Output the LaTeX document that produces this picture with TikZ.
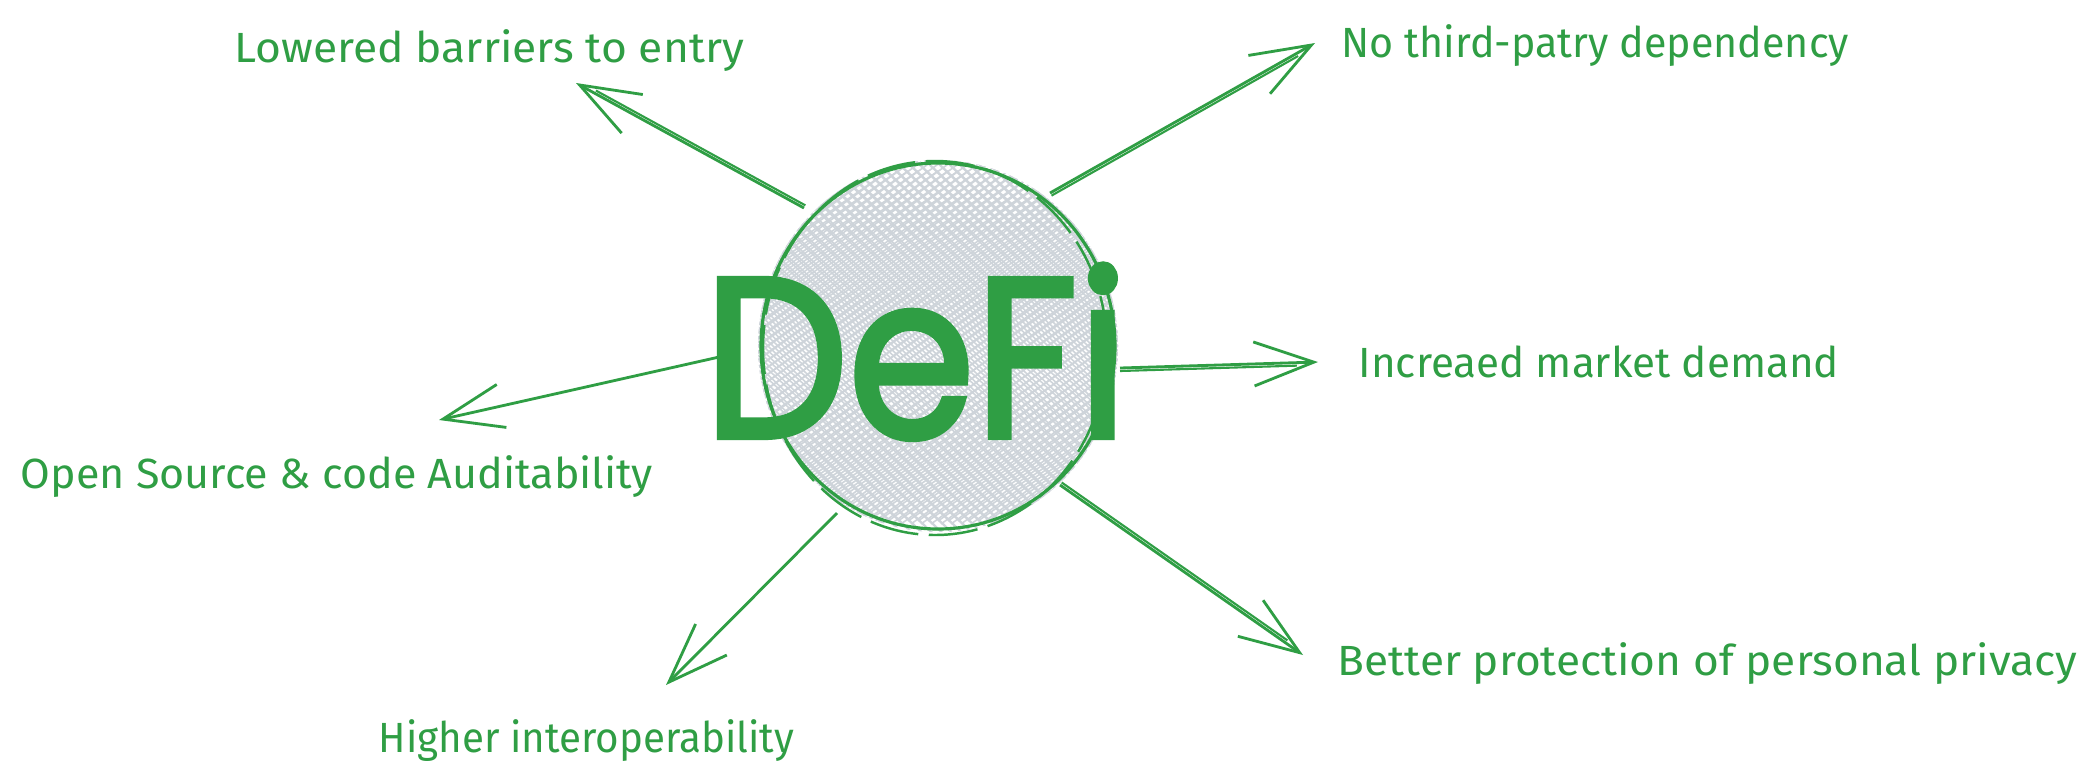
\documentclass[tikz,border=0pt]{standalone}
\usepackage{fontspec}
\setmainfont{Fira Sans}
\newfontfamily\defifont{Poppins}[FakeBold=2.5]
\usepackage{graphicx}
\usetikzlibrary{arrows.meta,calc}
\definecolor{exgreen}{HTML}{2F9E44}
\definecolor{hatchgray}{HTML}{CED4DA}
\newcommand\fitw[2]{\sbox0{#2}\pgfmathsetmacro\myscx{(#1)/(\the\wd0)}\scalebox{\myscx}[1]{\usebox0}}
\tikzset{
  lbl/.style={anchor=base west, inner sep=0pt, text=exgreen, font=\fontsize{12}{14}\selectfont},
  arr/.style={draw=exgreen, line width=0.8pt, -{Straight Barb[length=6mm, width=4.4mm, line width=0.8pt]}},
  shaft/.style={draw=exgreen, line width=0.6pt, shorten >=6pt},
  hatchline/.style={draw=hatchgray, line width=0.45pt},
}
\begin{document}
\begin{tikzpicture}[x=0.01cm, y=-0.01cm]
\useasboundingbox (0,0) rectangle (2100,781);
\fill[white] (0,0) rectangle (2100,781);

% central circle with cross hatching
\coordinate (c) at (938,346);
\begin{scope}
  \clip (c) ellipse [x radius=180, y radius=186];
  \foreach \i in {-600,-590,...,600} {
    \draw[hatchline] (c) ++(\i-250,175) -- ++(500,-350);
    \draw[hatchline] (c) ++(\i-250+3,178) -- ++(500,-362);
    \draw[hatchline] (c) ++(\i-250,-240) -- ++(500,480);
    \draw[hatchline] (c) ++(\i-250+4,-236) -- ++(500,470);
  }
\end{scope}
\draw[exgreen, line width=0.9pt] (c) ellipse [x radius=177, y radius=183];
\draw[exgreen, line width=0.7pt, dash pattern=on 14pt off 3pt] ($(c)+(-3,2)$) ellipse [x radius=172, y radius=187];

% DeFi
\node[anchor=south west, inner sep=0pt, text=exgreen] (defitext) at (703,440)
  {\resizebox{4.24cm}{1.73cm}{\defifont DeFi}};

% labels
\node[lbl] (l1) at (234,62) {\fitw{5.09cm}{Lowered barriers to entry}};
\node[lbl] (l2) at (1341,57) {\fitw{5.07cm}{No third-patry dependency}};
\node[lbl] (l3) at (1358,377) {\fitw{4.80cm}{Increaed market demand}};
\node[lbl] (l4) at (20,488) {\fitw{6.32cm}{Open Source \& code Auditability}};
\node[lbl] (l5) at (378,752) {\fitw{4.15cm}{Higher interoperability}};
\node[lbl] (l6) at (1337,675) {\fitw{7.39cm}{Better protection of personal privacy}};

% arrow end points
\coordinate (a1s) at (804,208);  \coordinate (a1e) at (576,83);
\coordinate (a2s) at (1050,193); \coordinate (a2e) at (1315,43);
\coordinate (a3s) at (1120,368); \coordinate (a3e) at (1318,362);
\coordinate (a4s) at (737,353);  \coordinate (a4e) at (439,420);
\coordinate (a5s) at (837,513);  \coordinate (a5e) at (666,685);
\coordinate (a6s) at (1060,485); \coordinate (a6e) at (1303,655);

\draw[arr] (a1s) -- (a1e);
\draw[shaft] ($(a1s)+(1.4,-2.6)$) -- ($(a1e)+(1.4,-2.6)$);
\draw[arr] (a2s) -- (a2e);
\draw[shaft] ($(a2s)+(1.5,2.6)$) -- ($(a2e)+(1.5,2.6)$);
\draw[arr] (a3s) -- (a3e);
\draw[shaft] ($(a3s)+(0,3)$) -- ($(a3e)+(0,3)$);
\draw[arr] (a4s) -- (a4e);
\draw[arr] (a5s) -- (a5e);
\draw[arr] (a6s) -- (a6e);
\draw[shaft] ($(a6s)+(1.7,-2.5)$) -- ($(a6e)+(1.7,-2.5)$);
\end{tikzpicture}
\end{document}
